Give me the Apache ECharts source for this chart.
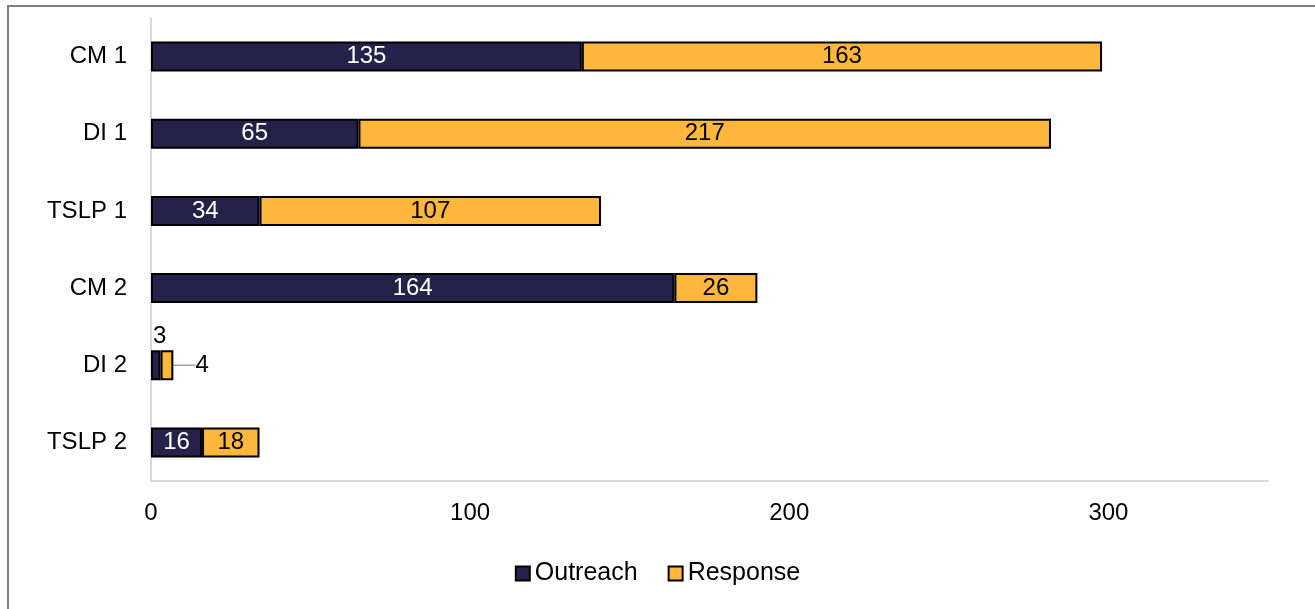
<!DOCTYPE html>
<html><head><meta charset="utf-8">
<script src="https://cdn.jsdelivr.net/npm/echarts@6/dist/echarts.min.js"></script>
<style>
html,body{margin:0;padding:0;background:#fff;}
#frame{position:absolute;left:7px;top:5px;width:2000px;height:2000px;border-left:2px solid #7f7f7f;border-top:2px solid #7f7f7f;box-sizing:border-box;}
#chart{position:absolute;left:0;top:0;width:1315px;height:609px;}
</style></head>
<body>
<div id="frame"></div>
<div id="chart"></div>
<script>
const categories = ["CM 1", "DI 1", "TSLP 1", "CM 2", "DI 2", "TSLP 2"];
const outreach = [135, 65, 34, 164, 3, 16];
const response = [163, 217, 107, 26, 4, 18];
const xTicks = [0, 100, 200, 300];

const FONT = "Liberation Sans";
const FS = 24;
const chart = echarts.init(document.getElementById('chart'));
const smallIdx = 4;

chart.setOption({
  animation: false,
  textStyle: { fontFamily: FONT },
  grid: { left: 151, right: 47, top: 18, bottom: 128, containLabel: false },
  xAxis: {
    type: 'value', min: 0, max: 350, interval: 100,
    axisLine: { show: true, lineStyle: { color: '#d9d9d9', width: 2 } },
    axisTick: { show: false },
    splitLine: { show: false },
    axisLabel: { color: '#000', fontSize: FS, margin: 20, fontFamily: FONT,
      formatter: v => xTicks.includes(v) ? String(v) : '' }
  },
  yAxis: {
    type: 'category', data: categories, inverse: true,
    axisLine: { show: true, lineStyle: { color: '#d9d9d9', width: 2 } },
    axisTick: { show: false },
    axisLabel: { color: '#000', fontSize: FS, margin: 24, fontFamily: FONT }
  },
  legend: {
    bottom: 18, left: 'center', itemWidth: 14, itemHeight: 14, itemGap: 30,
    icon: 'rect',
    textStyle: { color: '#000', fontSize: 25, fontFamily: FONT },
    data: ['Outreach', 'Response']
  },
  series: [
    {
      name: 'Outreach', type: 'bar', stack: 'a', barWidth: 30,
      itemStyle: { color: '#262149', borderColor: '#000', borderWidth: 2 },
      label: { show: true, position: 'inside', color: '#fff', fontSize: FS, fontFamily: FONT },
      data: outreach.map((v, i) => i === smallIdx
        ? { value: v, label: { position: 'top', color: '#000', distance: 2, offset: [4, 0] } }
        : v)
    },
    {
      name: 'Response', type: 'bar', stack: 'a', barWidth: 30,
      itemStyle: { color: '#FDB73D', borderColor: '#000', borderWidth: 2 },
      label: { show: true, position: 'inside', color: '#000', fontSize: FS, fontFamily: FONT },
      labelLine: { show: true, lineStyle: { color: '#a6a6a6', width: 1.5 } },
      labelLayout: function (p) {
        if (p.dataIndex === smallIdx) {
          return { dx: 26, align: 'left' };
        }
        return {};
      },
      data: response.map((v, i) => i === smallIdx
        ? { value: v, label: { position: 'insideLeft', distance: 0, padding: [0, 0, 0, 9] } }
        : v)
    }
  ]
});
</script>
</body></html>
